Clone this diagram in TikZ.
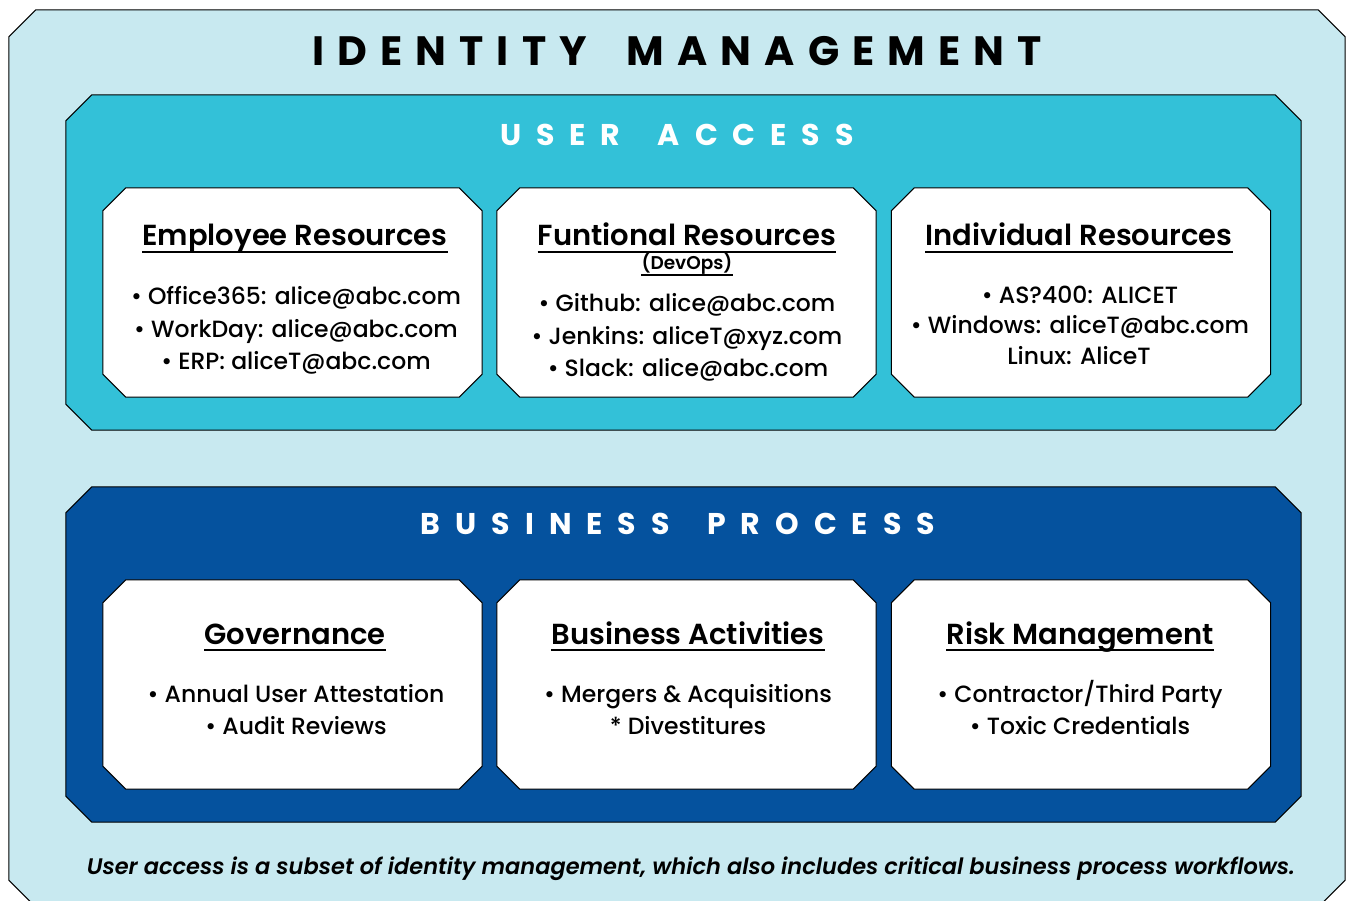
\documentclass[tikz,border=0pt]{standalone}
\usepackage{fontspec}
\setmainfont{Poppins}[UprightFont={* Medium}, BoldFont={* SemiBold}, ItalicFont={* Medium Italic}, BoldItalicFont={* SemiBold Italic}]
\newfontfamily\titlefont{Poppins}[UprightFont={* Bold}]
\usetikzlibrary{calc}

\definecolor{idlight}{HTML}{C8E9F0}
\definecolor{idteal}{HTML}{33C1D8}
\definecolor{idnavy}{HTML}{05529E}

% chamfered outline round a named node: node, chamfer, fill
\newcommand{\chamfbox}[3]{%
  \filldraw[fill=#3, draw=black, line width=1pt, line join=miter]
    ([xshift=#2]#1.north west) -- ([xshift=-#2]#1.north east) -- ([yshift=-#2]#1.north east)
    -- ([yshift=#2]#1.south east) -- ([xshift=-#2]#1.south east) -- ([xshift=#2]#1.south west)
    -- ([yshift=#2]#1.south west) -- ([yshift=-#2]#1.north west) -- cycle;}

\begin{document}
\begin{tikzpicture}[x=1pt, y=-1pt,
  frame/.style = {rectangle, inner sep=0pt},
  card/.style  = {rectangle, inner sep=0pt, minimum width=379pt, minimum height=209pt},
  title/.style = {anchor=base, inner sep=0pt, font=\titlefont\fontsize{41}{44}\selectfont\addfontfeatures{LetterSpace=32}},
  band/.style  = {anchor=base, inner sep=0pt, text=white, font=\titlefont\fontsize{30}{33}\selectfont\addfontfeatures{LetterSpace=50}},
  head/.style  = {anchor=base, inner sep=0pt, font=\fontsize{29}{32}\selectfont\bfseries},
  sub/.style   = {anchor=base, inner sep=0pt, font=\fontsize{18.5}{21}\selectfont\bfseries},
  item/.style  = {anchor=base, inner sep=0pt, font=\fontsize{23.5}{26}\selectfont},
  note/.style  = {anchor=base, inner sep=0pt, font=\fontsize{22.5}{26}\selectfont\bfseries\itshape},
  uline/.style = {line width=1.5pt},
  ]
  \useasboundingbox (0,0) rectangle (1349,901);

  % Frames
  \node (idm) at (677,458.5)   [frame, minimum width=1336pt, minimum height=897pt] {};
  \node (ua)  at (683.5,262.5) [frame, minimum width=1235pt, minimum height=335pt] {};
  \node (bp)  at (683.5,654.5) [frame, minimum width=1235pt, minimum height=335pt] {};
  \chamfbox{idm}{27pt}{idlight}
  \chamfbox{ua}{26pt}{idteal}
  \chamfbox{bp}{26pt}{idnavy}

  \node (t0) at (677,66)  [title] {IDENTITY\hspace{18pt} MANAGEMENT};
  \node (t1) at (677,146) [band]  {USER\hspace{16pt} ACCESS};
  \node (t2) at (678,534) [band]  {BUSINESS\hspace{16pt} PROCESS};

  % Cards
  \node (c1) at (292.5,292.5) [card] {};
  \node (c2) at (686.5,292.5) [card] {};
  \node (c3) at (1081,292.5)  [card] {};
  \node (c4) at (292.5,684.5) [card] {};
  \node (c5) at (686.5,684.5) [card] {};
  \node (c6) at (1081,684.5)  [card] {};
  \foreach \c in {c1,c2,c3,c4,c5,c6}
    {\chamfbox{\c}{23pt}{white}}

  % User access texts
  \node (er) at (295,246)  [head] {Employee Resources};
  \node (e1) at (296,305)  [item] {• Office365: alice@abc.com};
  \node (e2) at (296,337)  [item] {• WorkDay: alice@abc.com};
  \node (e3) at (296,369)  [item] {• ERP: aliceT@abc.com};

  \node (fr) at (687,246)  [head] {Funtional Resources};
  \node (dv) at (687,270)  [sub]  {(DevOps)};
  \node (f1) at (687,312)  [item] {• Github: alice@abc.com};
  \node (f2) at (687,344)  [item] {• Jenkins: aliceT@xyz.com};
  \node (f3) at (688,376)  [item] {• Slack: alice@abc.com};

  \node (ir) at (1079,246) [head] {Individual Resources};
  \node (i1) at (1080,304) [item] {• AS?400: ALICET};
  \node (i2) at (1080,334) [item] {• Windows: aliceT@abc.com};
  \node (i3) at (1079,364) [item] {Linux: AliceT};

  % Business process texts
  \node (gov) at (295,644)  [head] {Governance};
  \node (g1)  at (296,702)  [item] {• Annual User Attestation};
  \node (g2)  at (296,734)  [item] {• Audit Reviews};

  \node (ba) at (688,644)  [head] {Business Activities};
  \node (b1) at (688,702)  [item] {• Mergers \& Acquisitions};
  \node (b2) at (688,734)  [item] {* Divestitures};

  \node (rm) at (1080,644) [head] {Risk Management};
  \node (r1) at (1080,702) [item] {• Contractor/Third Party};
  \node (r2) at (1080,734) [item] {• Toxic Credentials};

  % Underlines
  \foreach \h in {er,fr,ir,gov,ba,rm}
    \draw[uline] ([yshift=-6pt]\h.base west) -- ([yshift=-6pt]\h.base east);
  \draw[uline] ([yshift=-5pt]dv.base west) -- ([yshift=-5pt]dv.base east);

  \node (foot) at (691,874) [note] {User access is a subset of identity management, which also includes critical business process workflows.};
\end{tikzpicture}
\end{document}
